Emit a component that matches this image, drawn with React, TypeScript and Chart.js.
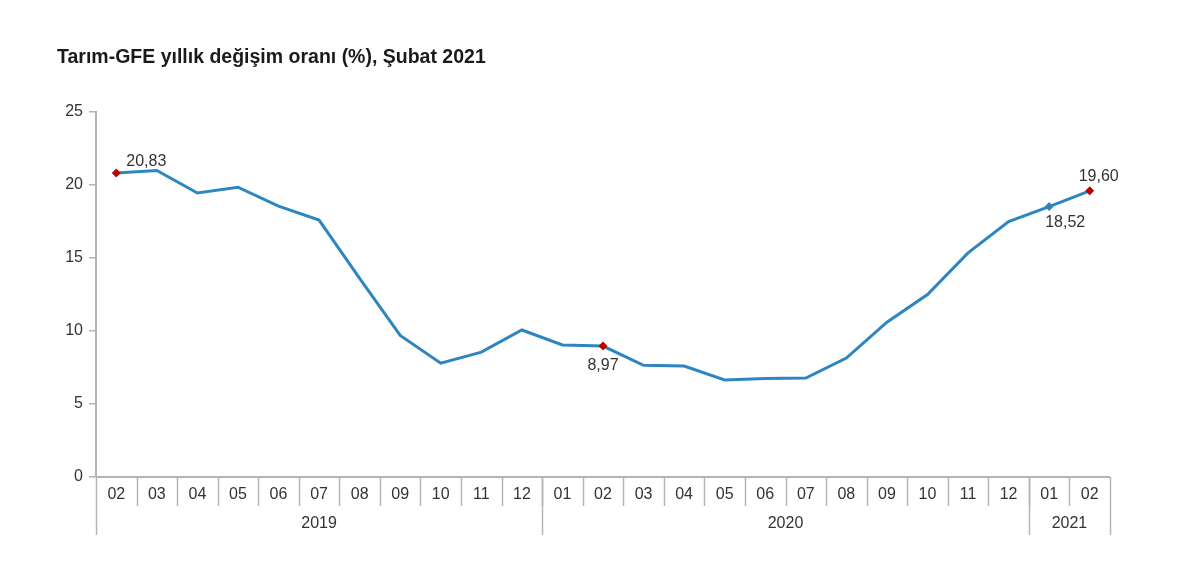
import React, { useEffect, useRef } from "react";
import { Chart, registerables } from "chart.js";

Chart.register(...registerables);

const months = ["02","03","04","05","06","07","08","09","10","11","12","01","02","03","04","05","06","07","08","09","10","11","12","01","02"];
const years = [
  { label: "2019", from: 0, to: 10 },
  { label: "2020", from: 11, to: 22 },
  { label: "2021", from: 23, to: 24 },
];
const values = [20.83, 21.0, 19.45, 19.85, 18.55, 17.6, 13.6, 9.7, 7.8, 8.55, 10.07, 9.04, 8.97, 7.65, 7.6, 6.65, 6.75, 6.78, 8.15, 10.6, 12.5, 15.35, 17.5, 18.52, 19.6];
const yTicks = [0, 5, 10, 15, 20, 25];
const titleText = "Tarım-GFE yıllık değişim oranı (%), Şubat 2021";
const annotated = [
  { index: 0, text: "20,83", pos: "aboveRight", color: "#c00000" },
  { index: 12, text: "8,97", pos: "below", color: "#c00000" },
  { index: 23, text: "18,52", pos: "belowRight", color: "#2e86c1" },
  { index: 24, text: "19,60", pos: "aboveRight2", color: "#c00000" },
];

const FONT = "'Liberation Sans', Arial, sans-serif";

const decoPlugin = {
  id: "deco",
  afterDraw(chart: any) {
    const ctx = chart.ctx;
    const x = chart.scales.x;
    const area = chart.chartArea;
    const bottom = area.bottom;
    const half = (x.getPixelForValue(1) - x.getPixelForValue(0)) / 2;
    ctx.save();
    // title
    ctx.fillStyle = "#1a1a1a";
    ctx.font = `bold 19.5px ${FONT}`;
    ctx.textAlign = "left";
    ctx.textBaseline = "middle";
    ctx.fillText(titleText, 57, 58);

    // x axis line
    ctx.strokeStyle = "#b4b4b4";
    ctx.lineWidth = 2;
    ctx.beginPath();
    ctx.moveTo(area.left, bottom);
    ctx.lineTo(area.right, bottom);
    ctx.stroke();

    // category separators
    ctx.lineWidth = 1.5;
    for (let i = 1; i < months.length; i++) {
      const px = Math.round(x.getPixelForValue(i) - half) + 0.5;
      ctx.beginPath();
      ctx.moveTo(px, bottom);
      ctx.lineTo(px, bottom + 29);
      ctx.stroke();
    }
    // year separators
    const yearEdges = [0, 11, 23, 25];
    for (const e of yearEdges) {
      const px = Math.round(x.getPixelForValue(e) - half) + 0.5;
      ctx.beginPath();
      ctx.moveTo(px, bottom);
      ctx.lineTo(px, bottom + 58);
      ctx.stroke();
    }
    // month labels
    ctx.fillStyle = "#333";
    ctx.font = `16px ${FONT}`;
    ctx.textAlign = "center";
    months.forEach((m, i) => {
      ctx.fillText(m, x.getPixelForValue(i), bottom + 18);
    });
    // year labels
    years.forEach((yv) => {
      const a = x.getPixelForValue(yv.from) - half;
      const b = x.getPixelForValue(yv.to) + half;
      ctx.fillText(yv.label, (a + b) / 2, bottom + 47);
    });

    // data labels
    const meta = chart.getDatasetMeta(0);
    ctx.font = `16px ${FONT}`;
    ctx.fillStyle = "#333";
    annotated.forEach((a) => {
      const pt = meta.data[a.index];
      if (!pt) return;
      let tx = pt.x, ty = pt.y;
      if (a.pos === "aboveRight") { tx += 30; ty -= 11; }
      else if (a.pos === "aboveRight2") { tx += 9; ty -= 14; }
      else if (a.pos === "belowRight") { tx += 16; ty += 16; }
      else { ty += 20; }
      ctx.textAlign = "center";
      ctx.fillText(a.text, tx, ty);
    });
    ctx.restore();
  },
};

export default function App() {
  const ref = useRef<HTMLCanvasElement>(null);
  useEffect(() => {
    const canvas = ref.current;
    if (!canvas) return;
    const radii = values.map((_, i) => {
      const a = annotated.find((p) => p.index === i);
      return a ? 4.5 : 0;
    });
    const colors = values.map((_, i) => {
      const a = annotated.find((p) => p.index === i);
      return a ? a.color : "#2e86c1";
    });
    const chart = new Chart(canvas, {
      type: "line",
      data: {
        labels: months,
        datasets: [
          {
            data: values,
            borderColor: "#2e86c1",
            borderWidth: 3,
            pointStyle: "rectRot",
            pointRadius: radii,
            pointBackgroundColor: colors,
            pointBorderColor: colors,
            pointBorderWidth: 0,
            tension: 0,
            fill: false,
          },
        ],
      },
      options: {
        responsive: false,
        animation: false,
        events: [],
        layout: { padding: { left: 0, right: 90, top: 112, bottom: 0 } },
        plugins: { legend: { display: false }, tooltip: { enabled: false }, title: { display: false } },
        scales: {
          x: {
            type: "category",
            offset: true,
            grid: { display: false },
            border: { display: false },
            ticks: { display: false },
            afterFit(scale: any) { scale.height = 98; },
          },
          y: {
            min: 0,
            max: 25,
            afterBuildTicks(scale: any) { scale.ticks = yTicks.map((v) => ({ value: v })); },
            grid: { drawOnChartArea: false, drawTicks: true, tickLength: 7, color: "#b4b4b4", lineWidth: 1.5 },
            border: { display: true, color: "#b4b4b4", width: 2 },
            ticks: { color: "#333", font: { family: FONT, size: 16 }, padding: 6 },
            afterFit(scale: any) { scale.width = 96; },
          },
        },
      },
      plugins: [decoPlugin],
    });
    return () => chart.destroy();
  }, []);
  return (
    <div style={{ position: "fixed", left: 0, top: 0, width: 1200, height: 575, background: "#fff" }}>
      <canvas ref={ref} width={1200} height={575} style={{ width: 1200, height: 575 }} />
    </div>
  );
}
